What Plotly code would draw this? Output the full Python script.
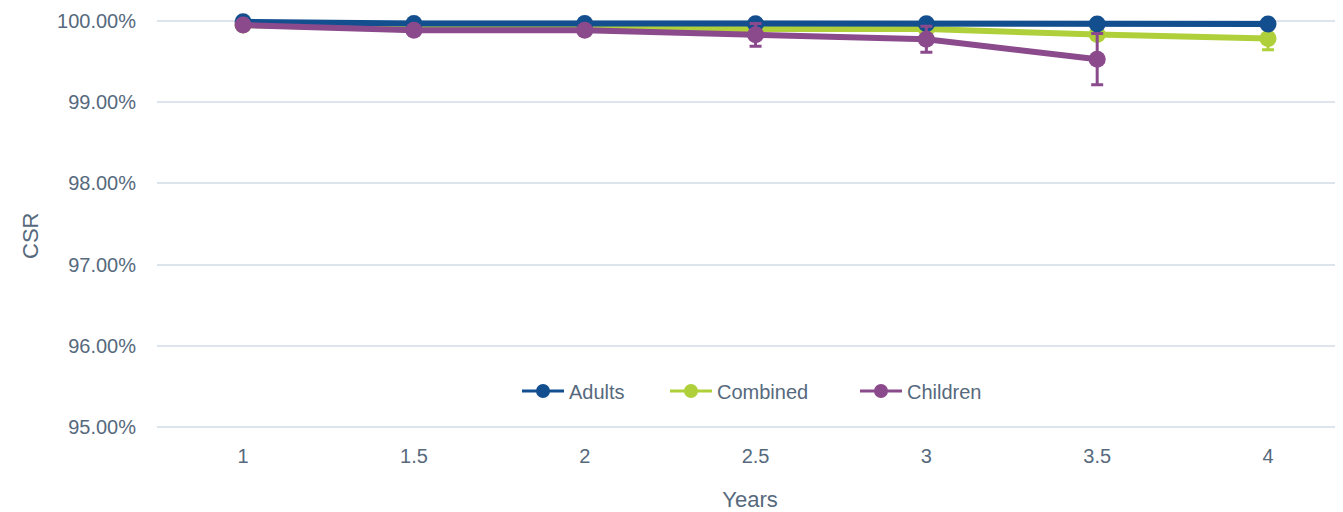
import plotly.graph_objects as go

years = [1, 1.5, 2, 2.5, 3, 3.5, 4]
x_tick_labels = ["1", "1.5", "2", "2.5", "3", "3.5", "4"]

adults = [99.99, 99.97, 99.97, 99.965, 99.965, 99.963, 99.963]

combined = [99.95, 99.905, 99.905, 99.91, 99.90, 99.835, 99.785]
combined_err = [0.01, 0.02, 0.02, 0.02, 0.02, 0.05, 0.14]

children_years = [1, 1.5, 2, 2.5, 3, 3.5]
children = [99.95, 99.885, 99.885, 99.83, 99.775, 99.53]
children_err = [0.01, 0.02, 0.02, 0.14, 0.16, 0.315]

y_tick_vals = [95, 96, 97, 98, 99, 100]
y_tick_labels = ["95.00%", "96.00%", "97.00%", "98.00%", "99.00%", "100.00%"]

series_names = ["Adults", "Combined", "Children"]

C_ADULTS = "#134f8f"
C_COMBINED = "#afd03b"
C_CHILDREN = "#8a4a8c"
TEXT = "#56697d"
GRID = "#dde4ec"
font_family = "Liberation Sans, Arial, sans-serif"

fig = go.Figure()

# data traces (drawing order: Combined, Adults, Children)
fig.add_trace(go.Scatter(
    x=years, y=combined, name="Combined", mode="lines+markers",
    line=dict(color=C_COMBINED, width=6),
    marker=dict(color=C_COMBINED, size=17),
    error_y=dict(type="data", array=combined_err, visible=True,
                 color=C_COMBINED, thickness=3, width=6),
    showlegend=False,
))
fig.add_trace(go.Scatter(
    x=years, y=adults, name="Adults", mode="lines+markers",
    line=dict(color=C_ADULTS, width=6),
    marker=dict(color=C_ADULTS, size=17),
    showlegend=False,
))
fig.add_trace(go.Scatter(
    x=children_years, y=children, name="Children", mode="lines+markers",
    line=dict(color=C_CHILDREN, width=6),
    marker=dict(color=C_CHILDREN, size=17),
    error_y=dict(type="data", array=children_err, visible=True,
                 color=C_CHILDREN, thickness=3, width=6),
    showlegend=False,
))

# legend entries (thin line + smaller marker), each in its own legend
legend_colors = [C_ADULTS, C_COMBINED, C_CHILDREN]
legend_ids = ["legend", "legend2", "legend3"]
for name, col, lid in zip(series_names, legend_colors, legend_ids):
    fig.add_trace(go.Scatter(
        x=[None], y=[None], name=name, mode="lines+markers",
        line=dict(color=col, width=3), marker=dict(color=col, size=14),
        showlegend=True, legend=lid,
    ))

PLOT_L, PLOT_W = 157, 1186  # page px of plot area
PLOT_H = 432
def px_to_paper(px):
    return (px - PLOT_L) / PLOT_W

legend_left_px = [517, 665, 855]
legend_common = dict(orientation="h", y=0.1134, yanchor="middle", xanchor="left",
                     font=dict(size=20, color=TEXT, family=font_family),
                     bgcolor="rgba(0,0,0,0)", borderwidth=0, itemwidth=42)

fig.update_layout(
    width=1335, height=504,
    margin=dict(l=149, r=0, t=0, b=72),
    paper_bgcolor="white", plot_bgcolor="white",
    font=dict(family=font_family, color=TEXT, size=20),
    showlegend=True,
    legend=dict(x=px_to_paper(legend_left_px[0]), **legend_common),
    legend2=dict(x=px_to_paper(legend_left_px[1]), **legend_common),
    legend3=dict(x=px_to_paper(legend_left_px[2]), **legend_common),
    xaxis=dict(range=[0.748, 4.2195], tickvals=years, ticktext=x_tick_labels,
               showgrid=False, zeroline=False, showline=False, ticks="",
               tickfont=dict(size=20, color=TEXT), ticklabelstandoff=2,
               title=dict(text="Years", font=dict(size=22, color=TEXT), standoff=25)),
    yaxis=dict(range=[94.84, 100.16], tickvals=y_tick_vals, ticktext=y_tick_labels,
               showgrid=True, gridcolor=GRID, gridwidth=2, zeroline=False,
               showline=False, ticks="", tickfont=dict(size=20, color=TEXT),
               ticklabelstandoff=20),
    annotations=[
        dict(text="CSR", textangle=-90, xref="paper", yref="paper",
             x=px_to_paper(30), y=(PLOT_H - 228) / PLOT_H,
             xanchor="center", yanchor="middle", showarrow=False,
             font=dict(size=22, color=TEXT, family=font_family)),
    ],
)

fig.write_html("out.html")
